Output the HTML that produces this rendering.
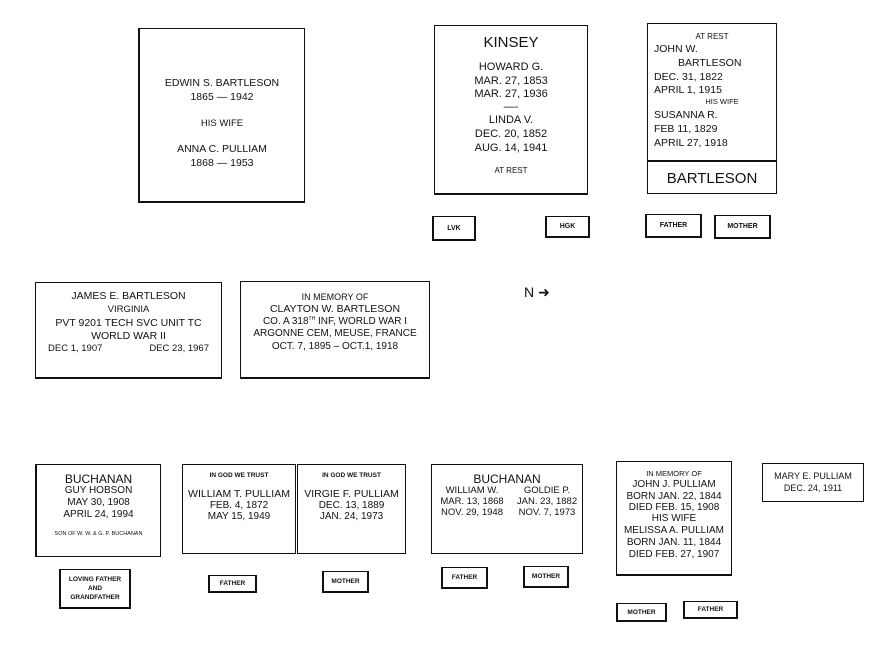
<!DOCTYPE html>
<html><head><meta charset="utf-8"><style>
*{margin:0;padding:0;box-sizing:border-box}
body{width:895px;height:663px;background:#fff;position:relative;overflow:hidden;font-family:"Liberation Sans",Arial,sans-serif;color:#111}
.b{position:absolute;border:1.5px solid #111;background:#fff}
.b.t{border-width:1px 1px 2px 2px}
.l{position:absolute;left:0;right:0;text-align:center;white-space:nowrap;line-height:12px;height:12px}
.s{position:absolute;border:1px solid #111;border-width:1px 2px 2px 2px;font-size:7px;font-weight:bold;display:flex;align-items:center;justify-content:center;text-align:center;line-height:9px;background:#fff}
sup{line-height:0;vertical-align:4px}
</style></head><body>

<div class="b t" style="left:138px;top:28px;width:167px;height:175px;font-size:10.5px">
<div class="l" style="top:48px">EDWIN S. BARTLESON</div>
<div class="l" style="top:62px">1865 — 1942</div>
<div class="l" style="top:89px;font-size:9.5px">HIS WIFE</div>
<div class="l" style="top:114px">ANNA C. PULLIAM</div>
<div class="l" style="top:128px">1868 — 1953</div>
</div>

<div class="b" style="left:434px;top:25px;width:154px;height:170px;border-bottom-width:2.5px;font-size:11px">
<div class="l" style="top:9px;font-size:15px;line-height:16px;height:16px">KINSEY</div>
<div class="l" style="top:35px">HOWARD G.</div>
<div class="l" style="top:49px">MAR. 27, 1853</div>
<div class="l" style="top:62px">MAR. 27, 1936</div>
<div class="l" style="top:75px">—-</div>
<div class="l" style="top:88px">LINDA V.</div>
<div class="l" style="top:102px">DEC. 20, 1852</div>
<div class="l" style="top:116px">AUG. 14, 1941</div>
<div class="l" style="top:139px;font-size:8px">AT REST</div>
</div>

<div class="b" style="left:647px;top:23px;width:130px;height:138px;border-width:1px;font-size:10.5px">
<div class="l" style="top:7px;font-size:8px">AT REST</div>
<div class="l" style="top:19px;text-align:left;left:6px">JOHN W.</div>
<div class="l" style="top:33px;text-align:left;left:30px">BARTLESON</div>
<div class="l" style="top:47px;text-align:left;left:6px">DEC. 31, 1822</div>
<div class="l" style="top:60px;text-align:left;left:6px">APRIL 1, 1915</div>
<div class="l" style="top:72px;font-size:7.5px;left:20px">HIS WIFE</div>
<div class="l" style="top:85px;text-align:left;left:6px">SUSANNA R.</div>
<div class="l" style="top:99px;text-align:left;left:6px">FEB 11, 1829</div>
<div class="l" style="top:113px;text-align:left;left:6px">APRIL 27, 1918</div>
</div>
<div class="b" style="left:647px;top:160px;width:130px;height:34px;border-width:1px;border-top-width:2px;font-size:15px">
<div class="l" style="top:9px;line-height:16px;height:16px">BARTLESON</div>
</div>

<div class="s" style="left:432px;top:216px;width:44px;height:25px">LVK</div>
<div class="s" style="left:545px;top:216px;width:45px;height:22px">HGK</div>
<div class="s" style="left:645px;top:214px;width:57px;height:24px">FATHER</div>
<div class="s" style="left:714px;top:215px;width:57px;height:24px">MOTHER</div>

<div class="b" style="left:35px;top:282px;width:187px;height:97px;border-width:1px 1.5px 2px 1.5px;font-size:10.5px">
<div class="l" style="top:7px">JAMES E. BARTLESON</div>
<div class="l" style="top:21px;font-size:9.5px">VIRGINIA</div>
<div class="l" style="top:34px">PVT 9201 TECH SVC UNIT TC</div>
<div class="l" style="top:47px">WORLD WAR II</div>
<div class="l" style="top:60px;text-align:left;left:12px;font-size:9.5px">DEC 1, 1907</div>
<div class="l" style="top:60px;text-align:right;right:12px;left:auto;font-size:9.5px">DEC 23, 1967</div>
</div>

<div class="b" style="left:240px;top:281px;width:190px;height:98px;border-width:1px 1.5px 2px 1.5px;font-size:10px">
<div class="l" style="top:9px;font-size:9px">IN MEMORY OF</div>
<div class="l" style="top:21px;font-size:10.5px">CLAYTON W. BARTLESON</div>
<div class="l" style="top:34px">CO. A 318<sup style="font-size:5px">TH</sup> INF, WORLD WAR I</div>
<div class="l" style="top:46px">ARGONNE CEM, MEUSE, FRANCE</div>
<div class="l" style="top:59px">OCT. 7, 1895 – OCT.1, 1918</div>
</div>

<div style="position:absolute;left:524px;top:284px;font-size:14px;line-height:16px">N ➜</div>

<div class="b" style="left:35px;top:464px;width:126px;height:93px;border-width:1px 1px 1.5px 2px;font-size:10px">
<div class="l" style="top:8px;font-size:12px;line-height:13px">BUCHANAN</div>
<div class="l" style="top:20px">GUY HOBSON</div>
<div class="l" style="top:32px">MAY 30, 1908</div>
<div class="l" style="top:44px">APRIL 24, 1994</div>
<div class="l" style="top:63px;font-size:5.5px">SON OF W. W. &amp; G. P. BUCHANAN</div>
</div>

<div class="b" style="left:182px;top:464px;width:114px;height:90px;border-width:1.5px;font-size:10px">
<div class="l" style="top:5px;font-size:6.5px;font-weight:bold">IN GOD WE TRUST</div>
<div class="l" style="top:23px;font-size:10.5px">WILLIAM T. PULLIAM</div>
<div class="l" style="top:35px">FEB. 4, 1872</div>
<div class="l" style="top:46px">MAY 15, 1949</div>
</div>
<div class="b" style="left:297px;top:464px;width:109px;height:90px;border-width:1px 1px 1.5px 1px;font-size:10px">
<div class="l" style="top:5px;font-size:6.5px;font-weight:bold">IN GOD WE TRUST</div>
<div class="l" style="top:23px;font-size:10.5px">VIRGIE F. PULLIAM</div>
<div class="l" style="top:35px">DEC. 13, 1889</div>
<div class="l" style="top:46px">JAN. 24, 1973</div>
</div>

<div class="b" style="left:431px;top:464px;width:152px;height:90px;border-width:1px 1px 1.5px 1.5px;font-size:9.5px">
<div class="l" style="top:8px;font-size:12px;line-height:13px">BUCHANAN</div>
<div class="l" style="top:20px;left:0;right:auto;width:80px">WILLIAM W.</div>
<div class="l" style="top:20px;left:80px;right:0">GOLDIE P.</div>
<div class="l" style="top:31px;left:0;right:auto;width:80px">MAR. 13, 1868</div>
<div class="l" style="top:31px;left:80px;right:0">JAN. 23, 1882</div>
<div class="l" style="top:42px;left:0;right:auto;width:80px">NOV. 29, 1948</div>
<div class="l" style="top:42px;left:80px;right:0">NOV. 7, 1973</div>
</div>

<div class="b" style="left:616px;top:461px;width:116px;height:115px;border-width:1.5px 1.5px 2px 1.5px;font-size:10px">
<div class="l" style="top:6px;font-size:7.5px">IN MEMORY OF</div>
<div class="l" style="top:17px">JOHN J. PULLIAM</div>
<div class="l" style="top:29px">BORN JAN. 22, 1844</div>
<div class="l" style="top:40px">DIED FEB. 15, 1908</div>
<div class="l" style="top:51px">HIS WIFE</div>
<div class="l" style="top:63px">MELISSA A. PULLIAM</div>
<div class="l" style="top:75px">BORN JAN. 11, 1844</div>
<div class="l" style="top:87px">DIED FEB. 27, 1907</div>
</div>

<div class="b" style="left:762px;top:463px;width:102px;height:39px;border-width:1px;font-size:9px">
<div class="l" style="top:6px">MARY E. PULLIAM</div>
<div class="l" style="top:18px">DEC. 24, 1911</div>
</div>

<div class="s" style="left:59px;top:569px;width:72px;height:40px;font-size:6.5px">LOVING FATHER<br>AND<br>GRANDFATHER</div>
<div class="s" style="left:208px;top:575px;width:49px;height:18px;font-size:6.5px">FATHER</div>
<div class="s" style="left:322px;top:571px;width:47px;height:22px;font-size:6.5px">MOTHER</div>
<div class="s" style="left:441px;top:567px;width:47px;height:22px;font-size:6.5px">FATHER</div>
<div class="s" style="left:523px;top:566px;width:46px;height:22px;font-size:6.5px">MOTHER</div>
<div class="s" style="left:616px;top:603px;width:51px;height:19px;font-size:6.5px">MOTHER</div>
<div class="s" style="left:683px;top:601px;width:55px;height:18px;font-size:6.5px">FATHER</div>

</body></html>
